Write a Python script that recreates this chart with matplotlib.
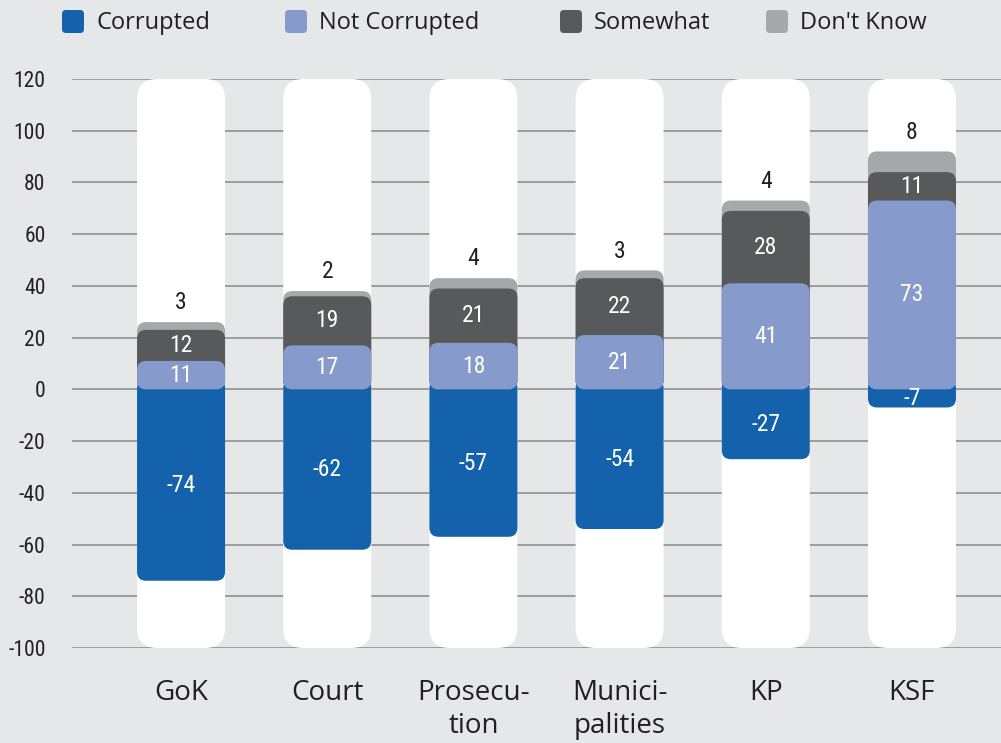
import numpy as np
import matplotlib
matplotlib.use("Agg")
import matplotlib.pyplot as plt
from matplotlib import font_manager as fm
from matplotlib.patches import FancyBboxPatch

# data
categories = ["GoK", "Court", "Prosecu-\ntion", "Munici-\npalities", "KP", "KSF"]
corrupted = [-74, -62, -57, -54, -27, -7]
not_corrupted = [11, 17, 18, 21, 41, 73]
somewhat = [12, 19, 21, 22, 28, 11]
dont_know = [3, 2, 4, 3, 4, 8]
series_names = ["Corrupted", "Not Corrupted", "Somewhat", "Don't Know"]

BG = "#e6e7e9"
C_COR = "#1461ac"
C_NOT = "#869bcc"
C_SOM = "#58595b"
C_DK = "#a7a8ab"
TXT = "#231f20"
colors = [C_COR, C_NOT, C_SOM, C_DK]

# narrow font for numbers, regular humanist sans for words
names = {f.name for f in fm.fontManager.ttflist}
narrow = [n for n in ("Roboto Condensed", "Open Sans Condensed",
                      "Liberation Sans Narrow") if n in names]
NUM = [narrow[0], "DejaVu Sans"] if narrow else ["DejaVu Sans"]
WORD = ["Open Sans", "DejaVu Sans"]
plt.rcParams["font.family"] = NUM
plt.rcParams["axes.unicode_minus"] = False

W, H = 1001, 743
fig = plt.figure(figsize=(W / 100, H / 100), dpi=100)
fig.patch.set_facecolor(BG)
ax = fig.add_axes([72 / W, (H - 648) / H, 1 - 72 / W, (648 - 79) / H])
ax.set_facecolor(BG)

x = np.arange(len(categories))
xlim = (-0.746, 5.609)
ax.set_xlim(*xlim)
ax.set_ylim(-100, 120)
for s in ax.spines.values():
    s.set_visible(False)

# pixel scales -> aspect for circular corners
px_x = (W - 72) / (xlim[1] - xlim[0])
px_y = (648 - 79) / 220
asp = px_x / px_y

bw = 88 / px_x


def rbox(xc, y0, y1, color, r_px, z):
    r = r_px / px_x
    p = FancyBboxPatch((xc - bw / 2, y0), bw, y1 - y0,
                       boxstyle=f"round,pad=0,rounding_size={r}",
                       mutation_aspect=asp, fc=color, ec="none", zorder=z)
    ax.add_patch(p)


ax.set_yticks(np.arange(-100, 121, 20))
ax.yaxis.grid(True, color="#9a9c9f", lw=1.4, zorder=0)
ax.set_axisbelow(True)
ax.tick_params(axis="y", length=0, pad=19, labelsize=15.5, labelcolor=TXT)
ax.set_xticks(x)
ax.set_xticklabels(categories, fontsize=20, color=TXT, linespacing=1.25,
                   va="top", family=WORD)
ax.tick_params(axis="x", length=0, pad=22)

for i in x:
    rbox(i, -100, 120, "white", 20, 2)
    nc, sw, dk, co = not_corrupted[i], somewhat[i], dont_know[i], corrupted[i]
    top = nc + sw + dk
    rbox(i, 0, top, C_DK, 9, 3)
    rbox(i, 0, nc + sw, C_SOM, 9, 4)
    rbox(i, co, 4, C_COR, 9, 5)
    rbox(i, 0, nc, C_NOT, 9, 6)
    lab = dict(ha="center", va="center", fontsize=17, color="white", zorder=10)
    ax.text(i, co / 2, str(co), **lab)
    ax.text(i, nc / 2, str(nc), **lab)
    ax.text(i, nc + sw / 2, str(sw), **lab)
    ax.text(i, top + 3, str(dk), ha="center", va="bottom", fontsize=17,
            color=TXT, zorder=10)

# legend along the top
lg = fig.add_axes([0, 0, 1, 1], facecolor="none")
lg.set_xlim(0, W)
lg.set_ylim(H, 0)
lg.axis("off")
leg_x = [62, 285, 560, 766]
for name, c, lx in zip(series_names, colors, leg_x):
    lg.add_patch(FancyBboxPatch((lx, 10), 22, 23,
                                boxstyle="round,pad=0,rounding_size=4",
                                fc=c, ec="none"))
    lg.text(lx + 34, 23, name, ha="left", va="center", fontsize=17,
            color=TXT, family=WORD)

fig.savefig("out.png", dpi=100, facecolor=BG)
